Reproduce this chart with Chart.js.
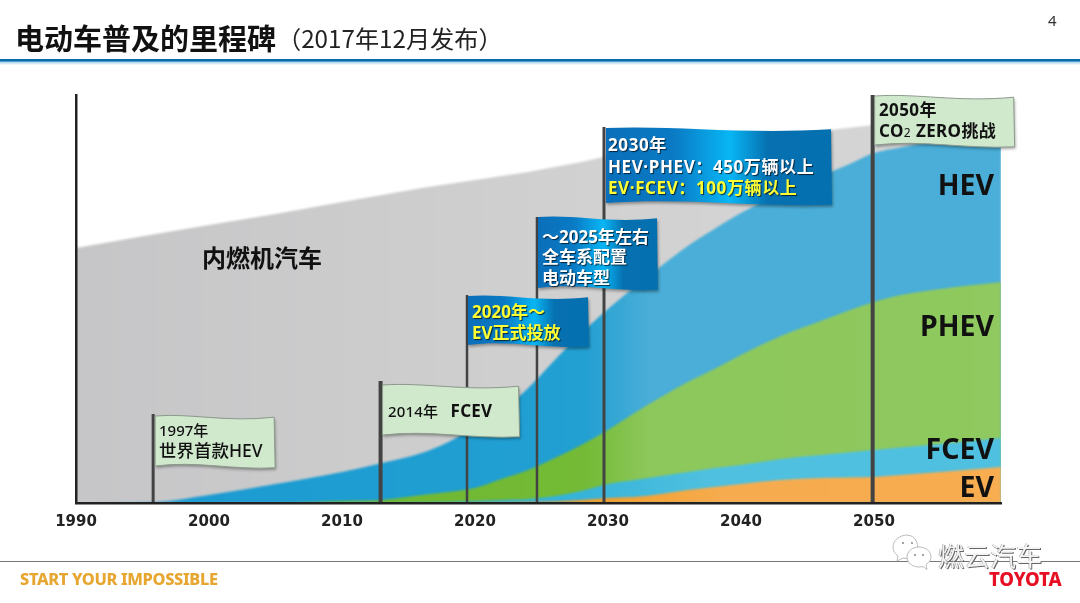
<!DOCTYPE html>
<html>
<head>
<meta charset="utf-8">
<title>电动车普及的里程碑</title>
<script src="https://cdn.jsdelivr.net/npm/chart.js@4"></script>
<style>
  html, body { margin: 0; padding: 0; background: #fff; }
  #page { position: relative; width: 1080px; height: 603px; overflow: hidden; font-family: "Noto Sans", "Noto Sans CJK SC", sans-serif; }
  #chart { position: absolute; left: 0; top: 0; }
  .txt { position: absolute; white-space: nowrap; line-height: 1; }
  #title { left: 15px; top: 23px; font-size: 29px; font-weight: 700; color: #111; font-family: "Noto Sans CJK SC", sans-serif; }
  #subtitle { left: 277px; top: 26px; font-size: 24.2px; color: #222; font-family: "Noto Sans CJK SC", sans-serif; }
  #pageno { left: 1048px; top: 13px; font-size: 15px; color: #333; }
  #rule { position: absolute; left: 0; top: 59px; width: 1080px; height: 6px; background: linear-gradient(#0b6cab 0, #0b6cab 35%, #a9d2ea 50%, #ffffff 100%); }
  #footline { position: absolute; left: 0; top: 561px; width: 1080px; height: 1px; background: #777; }
  #slogan { left: 20px; top: 571px; font-size: 16.4px; font-weight: 800; color: #e6a630; letter-spacing: -0.35px; }
  #brand { left: 989px; top: 570px; font-size: 18.6px; font-weight: 800; color: #e60f24; letter-spacing: -0.2px; }
  #mark { left: 938px; top: 542px; font-size: 26px; color: #f4f4f4; font-family: "Noto Sans CJK SC", sans-serif; text-shadow: 1px 1px 0 #666, -0.5px -0.5px 0 #999; }
  #wechat { position: absolute; left: 888px; top: 532px; }
</style>
</head>
<body>
<div id="page">
  <canvas id="chart" width="1080" height="603"></canvas>
  <div class="txt" id="title">电动车普及的里程碑</div>
  <div class="txt" id="subtitle">（2017年12月发布）</div>
  <div class="txt" id="pageno">4</div>
  <div id="rule"></div>
  <div id="footline"></div>
  <div class="txt" id="slogan">START YOUR IMPOSSIBLE</div>
  <svg id="wechat" width="50" height="42" viewBox="0 0 50 42" fill="#fff" stroke="#bbb" stroke-width="1">
    <path d="M20 3c-9 0-15 5.500-15 12 0 4 2 7 5 9l-1 5 6-3c2 .5 4 .6 6 .4 5 1 8 0 9-8 0-8-3-15-10-15z"/>
    <path d="M31 15c-7 0-12 4.500-12 10s5 10 12 10c1.500 0 3-.2 4-.5l4 3-1-5c3-2 5-4.500 5-7.500 0-5.500-5-10-12-10z"/>
    <circle cx="15" cy="11" r="1" fill="#888" stroke="none"/><circle cx="24" cy="11" r="1" fill="#888" stroke="none"/>
    <circle cx="27" cy="23" r="1" fill="#888" stroke="none"/><circle cx="35" cy="23" r="1" fill="#888" stroke="none"/>
  </svg>
  <div class="txt" id="mark">燃云汽车</div>
  <div class="txt" id="brand">TOYOTA</div>
</div>
<script>
// values (height of each band, same unit for all)
const years = [1990, 1996, 2000, 2005, 2010, 2013, 2016, 2018, 2020, 2022, 2024, 2026, 2028, 2030, 2032, 2034, 2036, 2038, 2040, 2043, 2046, 2048, 2050, 2052, 2055, 2059.55];
const ev =    [0, 0, 0, 0, 0, 0, 0, 0, 0.3, 0.5, 1, 1.5, 3, 5, 6, 9, 13, 16, 19, 23, 25, 25.5, 26, 28, 31, 36];
const fcev =  [0, 0, 0, 0, 0, 0, 0.5, 1, 1.7, 2.5, 3, 5.5, 9, 14, 17, 18, 18, 19, 19, 21, 23, 25, 27, 27.5, 28, 29];
const phev =  [0, 0, 0, 0, 2, 3, 7.5, 10, 13, 21, 29, 38, 46, 54, 67, 79, 90, 99, 110, 123, 134, 141.5, 148, 152.5, 155, 156];
const hev =   [0, 1, 8, 19, 29, 37, 42, 50, 61, 68, 82, 98, 112, 121, 126, 131, 136, 140, 142, 143, 145, 146, 149, 147.5, 149, 149];
const ice =   [255, 268, 270, 270, 270, 268, 265, 258, 247, 235, 216, 193, 171, 153, 135, 118, 101, 87, 75, 59, 45, 37, 28, 24, 20, 18];
const seriesNames = ['EV', 'FCEV', 'PHEV', 'HEV', '内燃机汽车'];
const poleYears = [1995.8, 2012.9, 2019.4, 2024.66, 2029.7, 2049.9];

const latin = '"Noto Sans", "Noto Sans CJK SC", sans-serif';

// horizontal colour change of the bands
function bandFill(stops) {
    return function (context) {
        const area = context.chart.chartArea;
        if (!area) return stops[0][1];
        const g = context.chart.ctx.createLinearGradient(area.left, 0, area.right, 0);
        stops.forEach(s => g.addColorStop(s[0], s[1]));
        return g;
    };
}

const bandColors = [
    [[0, '#f39a20'], [0.55, '#f39c26'], [0.7, '#f6ac4e'], [1, '#f7ad50']],
    [[0, '#2aadd6'], [0.55, '#36b3da'], [0.68, '#4fc0df'], [1, '#50c0e0']],
    [[0, '#6db82c'], [0.55, '#74ba36'], [0.62, '#8dc85c'], [1, '#8fc95f']],
    [[0, '#1a9ad2'], [0.55, '#22a0d2'], [0.62, '#4aaed8'], [1, '#4aaed8']],
    [[0, '#c6c6c8'], [0.6, '#d2d2d2'], [1, '#d6d6d6']]
];

const allSeries = [ev, fcev, phev, hev, ice];
const datasets = allSeries.map((values, i) => ({
    label: seriesNames[i],
    data: values.map((v, j) => ({ x: years[j], y: v })),
    fill: 'origin',
    backgroundColor: bandFill(bandColors[i]),
    borderWidth: 0,
    pointRadius: 0,
    cubicInterpolationMode: 'monotone'
}));

function flagPath(ctx, x, y, w, h, wave) {
    ctx.beginPath();
    ctx.moveTo(x, y);
    ctx.bezierCurveTo(x + w * 0.3, y - wave, x + w * 0.6, y + wave * 2.2, x + w, y + wave * 0.4);
    ctx.lineTo(x + w + 1, y + h + wave * 0.6);
    ctx.bezierCurveTo(x + w * 0.65, y + h + wave * 1.4, x + w * 0.35, y + h - wave * 1.8, x, y + h);
    ctx.closePath();
}

function drawTextRun(ctx, runs, x, y) {
    let cx = x;
    runs.forEach(r => {
        ctx.font = r.font;
        ctx.fillText(r.text, cx, y);
        cx += ctx.measureText(r.text).width;
    });
}

const b17 = 'bold 17px ' + latin;
const flags = [
    { pole: 0, top: 414, dx: 2, y: 416, width: 119, h: 50, wave: 3, kind: 'green', poleW: 3,
      lines: [{ x: 159, y: 436, color: '#111', runs: [{ text: '1997年', font: '500 15px ' + latin }] },
              { x: 159, y: 457, color: '#111', runs: [{ text: '世界首款HEV', font: '500 17.5px ' + latin }] }] },
    { pole: 1, top: 381, dx: 2, y: 385, width: 136, h: 50, wave: 3, kind: 'green', poleW: 4, spacing: '0.2px',
      lines: [{ x: 388, y: 417, color: '#111', runs: [{ text: '2014年', font: '500 15px ' + latin }, { text: '   ', font: '15px ' + latin }, { text: 'FCEV', font: 'bold 17px ' + latin }] }] },
    { pole: 2, top: 295, dx: 1, y: 296, width: 120, h: 49, wave: 3, kind: 'blue', poleW: 2.5, shadow: true,
      lines: [{ x: 472, y: 318, color: '#ffff33', runs: [{ text: '2020年～', font: b17 }] },
              { x: 472, y: 339, color: '#ffff33', runs: [{ text: 'EV正式投放', font: b17 }] }] },
    { pole: 3, top: 217, dx: 1, y: 217, width: 119, h: 71, wave: 3, kind: 'blue', poleW: 2.5, shadow: true,
      lines: [{ x: 542, y: 243, color: '#fff', runs: [{ text: '～2025年左右', font: b17 }] },
              { x: 542, y: 263, color: '#fff', runs: [{ text: '全车系配置', font: b17 }] },
              { x: 542, y: 284, color: '#fff', runs: [{ text: '电动车型', font: b17 }] }] },
    { pole: 4, top: 127, dx: 2, y: 128, width: 225, h: 75, wave: 3, kind: 'blue', poleW: 3, shadow: true, spacing: '0.6px',
      lines: [{ x: 608, y: 151, color: '#fff', runs: [{ text: '2030年', font: b17 }] },
              { x: 608, y: 173, color: '#fff', runs: [{ text: 'HEV·PHEV：450万辆以上', font: b17 }] },
              { x: 608, y: 194, color: '#ffff33', runs: [{ text: 'EV·FCEV：100万辆以上', font: b17 }] }] },
    { pole: 5, top: 95, dx: 2, y: 96, width: 139, h: 49, wave: 3, kind: 'green', poleW: 4, spacing: '0.4px',
      lines: [{ x: 879, y: 116, color: '#111', runs: [{ text: '2050年', font: b17 }] },
              { x: 879, y: 137, color: '#111', runs: [{ text: 'CO', font: b17 }, { text: '2', font: '12px ' + latin }, { text: ' ZERO挑战', font: b17 }] }] }
];

const bandLabels = [
    { text: '内燃机汽车', x: 262, y: 258, align: 'center', font: 'bold 24px "Noto Sans CJK SC", sans-serif' },
    { text: 'HEV', x: 994, y: 187, align: 'right', font: 'bold 28.5px ' + latin },
    { text: 'PHEV', x: 994, y: 328, align: 'right', font: 'bold 28.5px ' + latin },
    { text: 'FCEV', x: 994, y: 451, align: 'right', font: 'bold 28.5px ' + latin },
    { text: 'EV', x: 994, y: 489, align: 'right', font: 'bold 28.5px ' + latin }
];

const milestones = {
    id: 'milestones',
    beforeDatasetsDraw(chart) {
        chart.ctx.filter = 'blur(1.3px)'; // the bands have soft edges in the slide
    },
    afterDatasetsDraw(chart) {
        const ctx = chart.ctx;
        const xs = chart.scales.x;
        const bottom = chart.chartArea.bottom;
        ctx.filter = 'none';

        ctx.save();
        ctx.textBaseline = 'middle';
        ctx.fillStyle = '#111';
        bandLabels.forEach(l => {
            ctx.font = l.font;
            ctx.textAlign = l.align;
            ctx.fillText(l.text, l.x, l.y);
        });
        ctx.restore();

        // later flags go behind earlier ones
        flags.slice().reverse().forEach(f => {
            const px = xs.getPixelForValue(poleYears[f.pole]);
            ctx.save();
            ctx.fillStyle = '#434343';
            ctx.fillRect(px - f.poleW / 2, f.top, f.poleW, bottom - f.top);

            const x0 = px + f.dx;
            let fill = '#d0e9cc';
            if (f.kind === 'blue') {
                fill = ctx.createLinearGradient(x0, 0, x0 + f.width, 0);
                fill.addColorStop(0, '#0a6fba');
                fill.addColorStop(0.3, '#0a7ac4');
                fill.addColorStop(0.55, '#08b6f5');
                fill.addColorStop(0.72, '#0670b0');
                fill.addColorStop(1, '#0570b0');
            }
            ctx.shadowColor = 'rgba(0,0,0,0.35)';
            ctx.shadowBlur = 3;
            ctx.shadowOffsetX = 1;
            ctx.shadowOffsetY = 2;
            flagPath(ctx, x0, f.y, f.width, f.h, f.wave);
            ctx.fillStyle = fill;
            ctx.fill();
            ctx.shadowColor = 'transparent';
            if (f.kind === 'green') {
                ctx.strokeStyle = '#8d9a8d';
                ctx.lineWidth = 1;
                ctx.stroke();
            }
            if (f.shadow) {
                ctx.shadowColor = 'rgba(0,0,0,0.7)';
                ctx.shadowBlur = 1;
                ctx.shadowOffsetX = 1;
                ctx.shadowOffsetY = 1;
            }
            ctx.textAlign = 'left';
            ctx.textBaseline = 'alphabetic';
            ctx.letterSpacing = f.spacing || '0px';
            f.lines.forEach(line => {
                ctx.fillStyle = line.color;
                drawTextRun(ctx, line.runs, line.x, line.y);
            });
            ctx.restore();
        });
    }
};

new Chart(document.getElementById('chart'), {
    type: 'line',
    data: { datasets: datasets },
    plugins: [milestones],
    options: {
        responsive: false,
        animation: false,
        layout: { padding: { left: 0, right: 79, top: 95, bottom: 60 } },
        plugins: { legend: { display: false }, tooltip: { enabled: false }, title: { display: false } },
        scales: {
            x: {
                type: 'linear',
                min: 1990,
                max: 2059.55,
                afterFit: s => { s.height = 40; },
                grid: { display: false },
                border: { display: true, color: '#222', width: 2.5, z: 1 },
                ticks: {
                    stepSize: 10,
                    includeBounds: false,
                    maxRotation: 0,
                    autoSkip: false,
                    padding: 2,
                    color: '#222',
                    font: { family: '"DejaVu Sans", sans-serif', size: 15, weight: 'bold' },
                    callback: v => String(v)
                }
            },
            y: {
                stacked: true,
                min: 0,
                max: 408,
                afterFit: s => { s.width = 76; },
                grid: { display: false },
                border: { display: true, color: '#222', width: 2.5, z: 1 },
                ticks: { display: false }
            }
        }
    }
});
</script>
</body>
</html>
